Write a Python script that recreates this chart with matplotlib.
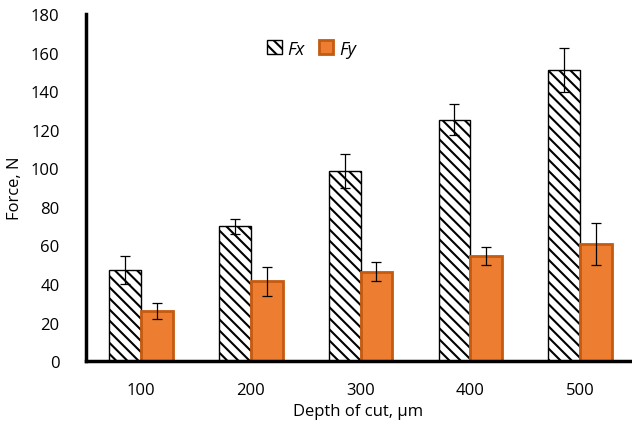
import matplotlib.pyplot as plt
import numpy as np

# depth of cut (um) and cutting forces (N)
depth = ["100", "200", "300", "400", "500"]
fx = [47.3, 69.8, 98.6, 125.1, 151.0]
fx_err = [7.2, 4.0, 8.8, 8.0, 11.5]
fy = [26.0, 41.3, 46.4, 54.5, 60.8]
fy_err = [4.3, 7.4, 5.0, 4.6, 11.0]

plt.rcParams['font.family'] = ['Open Sans', 'DejaVu Sans']
plt.rcParams['hatch.linewidth'] = 1.5

fig = plt.figure(figsize=(6.32, 4.27), dpi=100)
ax = fig.add_axes([0.136, 0.152, 0.862, 0.813])

x = np.arange(len(depth))
w = 0.29
ax.bar(x - w / 2, fx, w, color='white', edgecolor='black', hatch='\\\\\\',
       linewidth=1.0, label='Fx', zorder=2)
ax.bar(x + w / 2, fy, w, color='#ED7D31', edgecolor='#C55A11',
       linewidth=2.0, label='Fy', zorder=2)
ax.errorbar(x - w / 2, fx, yerr=fx_err, fmt='none', ecolor='black',
            elinewidth=0.9, capsize=3.5, capthick=0.9, zorder=3)
ax.errorbar(x + w / 2, fy, yerr=fy_err, fmt='none', ecolor='black',
            elinewidth=0.9, capsize=3.5, capthick=0.9, zorder=3)

ax.set_xlim(-0.5, 4.46)
ax.set_ylim(0, 180)
ax.set_yticks(np.arange(0, 181, 20))
ax.set_xticks(x)
ax.set_xticklabels(depth)
ax.tick_params(axis='both', length=0, labelsize=12)
ax.tick_params(axis='y', pad=19)
ax.tick_params(axis='x', pad=15)
for s in ['top', 'right']:
    ax.spines[s].set_visible(False)
for s in ['left', 'bottom']:
    ax.spines[s].set_linewidth(2.5)

ax.set_xlabel('Depth of cut, µm', fontsize=12, labelpad=4)
ax.set_ylabel('Force, N', fontsize=12, labelpad=6)

leg = ax.legend(loc='center', bbox_to_anchor=(0.414, 0.9), ncol=2,
                frameon=False, prop={'style': 'italic', 'size': 13},
                handlelength=0.8, handleheight=0.8, columnspacing=0.8,
                handletextpad=0.3)

fig.savefig('out.png', dpi=100)
